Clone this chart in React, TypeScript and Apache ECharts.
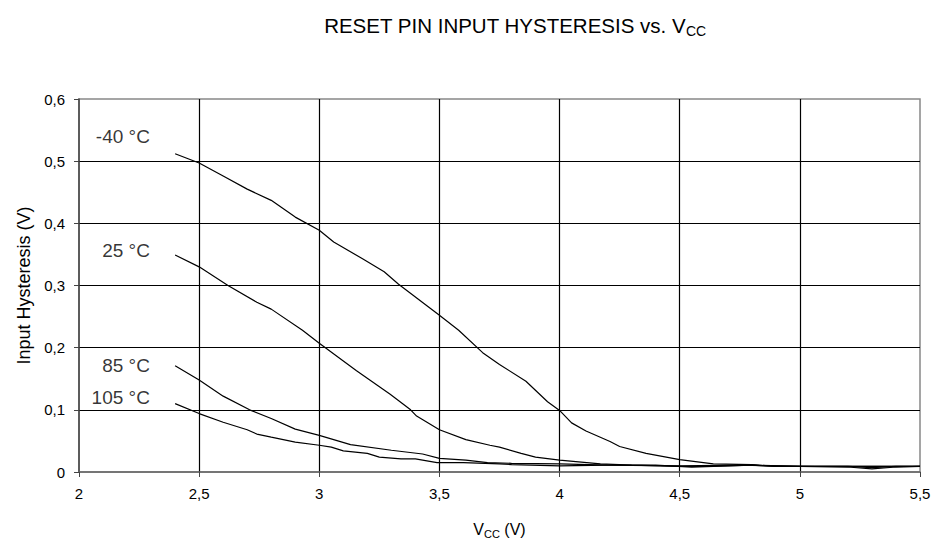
import React, { useEffect, useRef } from "react";
import * as echarts from "echarts";

const xTicks = [2, 2.5, 3, 3.5, 4, 4.5, 5, 5.5];
const yTicks = [0, 0.1, 0.2, 0.3, 0.4, 0.5, 0.6];

const tempNames = ["-40 °C", "25 °C", "85 °C", "105 °C"];

const m40: number[][] = [
  [2.4, 0.512], [2.5, 0.497], [2.6, 0.476], [2.7, 0.455], [2.8, 0.437], [2.9, 0.41],
  [3.0, 0.389], [3.06, 0.37], [3.18, 0.343], [3.27, 0.322], [3.33, 0.302], [3.5, 0.252],
  [3.58, 0.228], [3.68, 0.192], [3.75, 0.173], [3.86, 0.146], [3.95, 0.113], [4.0, 0.099],
  [4.05, 0.079], [4.11, 0.066], [4.21, 0.049], [4.25, 0.041], [4.36, 0.03], [4.5, 0.02],
  [4.64, 0.013], [4.8, 0.012], [4.9, 0.009], [5.0, 0.009], [5.2, 0.009], [5.3, 0.007],
  [5.4, 0.009], [5.5, 0.009],
];

const t25: number[][] = [
  [2.4, 0.349], [2.5, 0.33], [2.62, 0.3], [2.74, 0.273], [2.8, 0.262], [2.93, 0.228],
  [3.0, 0.207], [3.155, 0.163], [3.295, 0.125], [3.38, 0.1], [3.405, 0.09], [3.5, 0.068],
  [3.61, 0.052], [3.71, 0.043], [3.75, 0.04], [3.84, 0.03], [3.9, 0.024], [4.0, 0.019],
  [4.17, 0.013], [4.3, 0.011], [4.5, 0.009], [4.6, 0.009], [4.8, 0.011], [5.0, 0.009],
  [5.5, 0.009],
];

const t85: number[][] = [
  [2.4, 0.171], [2.5, 0.148], [2.6, 0.122], [2.71, 0.1], [2.8, 0.086], [2.9, 0.069],
  [3.0, 0.059], [3.13, 0.044], [3.3, 0.035], [3.43, 0.029], [3.5, 0.022], [3.61, 0.019],
  [3.7, 0.015], [3.8, 0.014], [4.0, 0.013], [4.2, 0.011], [4.5, 0.01], [4.75, 0.011],
  [5.0, 0.009], [5.5, 0.009],
];

const t105: number[][] = [
  [2.4, 0.11], [2.5, 0.094], [2.6, 0.08], [2.7, 0.068], [2.74, 0.061], [2.8, 0.056],
  [2.9, 0.048], [3.0, 0.043], [3.05, 0.04], [3.1, 0.034], [3.2, 0.03], [3.25, 0.024],
  [3.34, 0.021], [3.4, 0.021], [3.49, 0.015], [3.6, 0.015], [3.75, 0.013], [3.8, 0.012],
  [4.0, 0.01], [4.2, 0.011], [4.4, 0.011], [4.55, 0.008], [4.7, 0.01], [4.8, 0.011],
  [4.9, 0.009], [5.0, 0.009], [5.2, 0.008], [5.3, 0.005], [5.4, 0.008], [5.5, 0.009],
];

const seriesData = [m40, t25, t85, t105];

// label anchor points (right edge, vertical middle) in data units
const labelX = [2.295, 2.295, 2.295, 2.295];
const labelY = [0.539, 0.357, 0.172, 0.12];

const FONT = "'Liberation Sans', Arial, sans-serif";
const fmt = (v: number) => (v === 0 ? "0" : String(v).replace(".", ","));

export default function App() {
  const ref = useRef<HTMLDivElement>(null);
  useEffect(() => {
    document.body.style.margin = "0";
    if (!ref.current) return;
    const chart = echarts.init(ref.current, undefined, { renderer: "svg" });
    const lineSeries = seriesData.map((d, i) => ({
      type: "line",
      name: tempNames[i],
      data: d,
      showSymbol: false,
      symbol: "none",
      lineStyle: { color: "#000", width: 1.2 },
      z: 3,
    }));
    chart.setOption({
      animation: false,
      backgroundColor: "#fff",
      textStyle: { fontFamily: FONT },
      title: {
        text: "{a|RESET PIN INPUT HYSTERESIS vs. V}{s|CC}",
        left: 510,
        top: 7,
        textAlign: "center",
        textStyle: {
          fontWeight: "normal",
          rich: {
            a: { fontSize: 20.5, lineHeight: 26, color: "#000", fontWeight: "normal", fontFamily: FONT },
            s: { fontSize: 14, lineHeight: 14, verticalAlign: "bottom", color: "#000", fontWeight: "normal", fontFamily: FONT },
          },
        },
      },
      grid: {
        left: 79,
        right: 20,
        top: 99,
        bottom: 72,
        show: true,
        borderColor: "#888",
        borderWidth: 1.5,
      },
      xAxis: {
        type: "value",
        min: xTicks[0],
        max: xTicks[xTicks.length - 1],
        interval: 0.5,
        name: "{a|V}{s|CC}{a| (V)}",
        nameLocation: "middle",
        nameGap: 47,
        nameTextStyle: {
          rich: {
            a: { fontSize: 16, lineHeight: 20, color: "#000", fontFamily: FONT },
            s: { fontSize: 11, lineHeight: 11, verticalAlign: "bottom", color: "#000", fontFamily: FONT },
          },
        },
        axisLine: { show: true, lineStyle: { color: "#666", width: 1.5 } },
        axisTick: { show: true, inside: false, length: 5, lineStyle: { color: "#444" } },
        axisLabel: { formatter: fmt, fontSize: 15, color: "#000", margin: 14, fontFamily: FONT },
        splitLine: { show: true, showMinLine: false, showMaxLine: false, lineStyle: { color: "#000", width: 1.2 } },
      },
      yAxis: {
        type: "value",
        min: yTicks[0],
        max: yTicks[yTicks.length - 1],
        interval: 0.1,
        name: "Input Hysteresis (V)",
        nameLocation: "middle",
        nameGap: 46,
        nameTextStyle: { fontSize: 18, color: "#000", fontFamily: FONT },
        axisLine: { show: true, lineStyle: { color: "#444", width: 1.5 } },
        axisTick: { show: true, inside: false, length: 5, lineStyle: { color: "#444" } },
        axisLabel: { formatter: fmt, fontSize: 15, color: "#000", margin: 14, fontFamily: FONT },
        splitLine: { show: true, showMinLine: false, showMaxLine: false, lineStyle: { color: "#000", width: 1.2 } },
      },
      series: [
        ...lineSeries,
        {
          type: "scatter",
          symbolSize: 0,
          silent: true,
          data: tempNames.map((n, i) => ({ name: n, value: [labelX[i], labelY[i]] })),
          label: {
            show: true,
            position: "left",
            distance: 0,
            formatter: (p: any) => p.name,
            fontSize: 19,
            color: "#000",
            fontFamily: FONT,
          },
          z: 4,
        },
      ],
    });
    return () => chart.dispose();
  }, []);
  return <div ref={ref} style={{ width: 940, height: 544 }} />;
}
